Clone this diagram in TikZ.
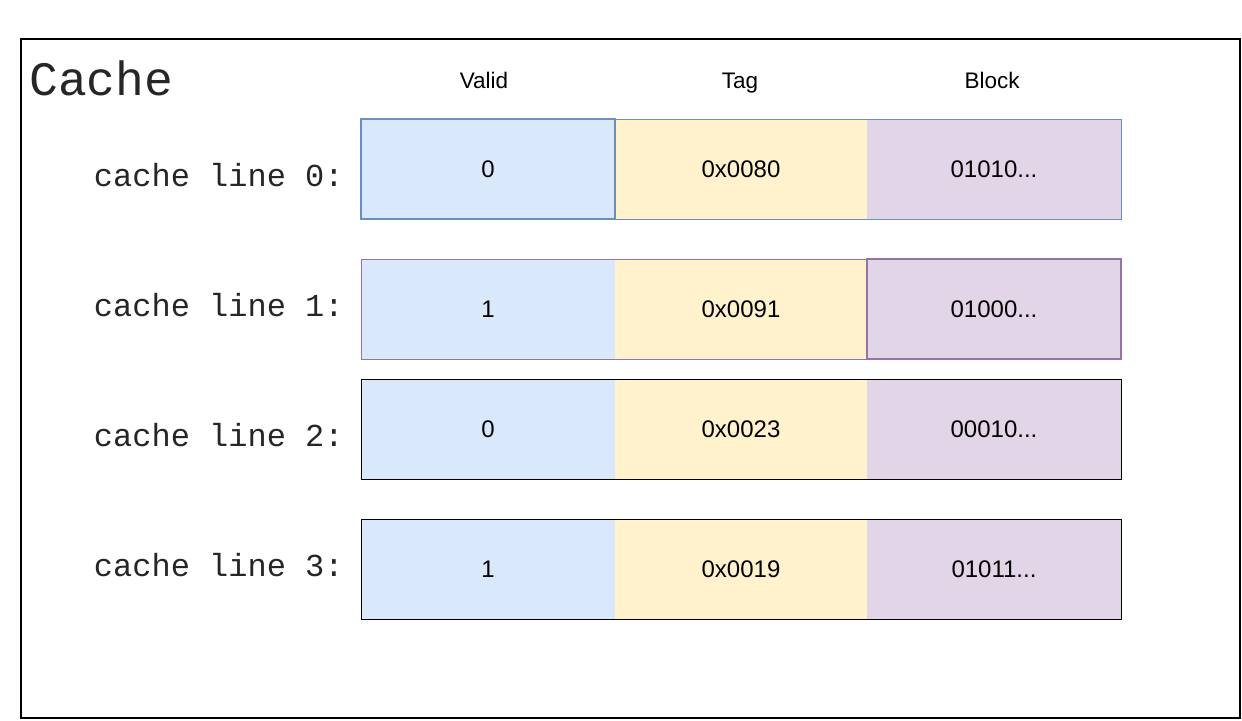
\documentclass[tikz,border=0pt]{standalone}
\usepackage{fontspec}
\setmainfont{Liberation Sans}
\setmonofont{Liberation Mono}
\usetikzlibrary{positioning}
\definecolor{vfill}{HTML}{DAE8FC}
\definecolor{vline}{HTML}{6C8EBF}
\definecolor{tfill}{HTML}{FFF2CC}
\definecolor{bfill}{HTML}{E1D5E7}
\definecolor{bline}{HTML}{9673A6}

\begin{document}
\begin{tikzpicture}[x=0.5pt,y=-0.5pt,node distance=0pt,
  cell/.style={rectangle,minimum width=127pt,minimum height=50pt,inner sep=0pt,outer sep=0pt,
    font=\fontsize{12}{14}\selectfont},
  valid/.style={cell,fill=vfill},
  tag/.style={cell,fill=tfill,minimum width=126pt},
  block/.style={cell,fill=bfill},
  lbl/.style={anchor=base east,inner sep=0pt,text=black!85,font=\ttfamily\fontsize{16}{18}\selectfont},
  head/.style={anchor=base,inner sep=0pt,font=\fontsize{11.25}{13}\selectfont}]
\useasboundingbox (0,0) rectangle (1242,720);
\draw[line width=1pt] (21,39) rectangle (1240,718);

\node[anchor=base west,inner sep=0pt,text=black!85,font=\ttfamily\fontsize{24}{28}\selectfont] (title) at (29,95) {Cache};
\node[head] (hvalid) at (484,88) {Valid};
\node[head] (htag) at (740,88) {Tag};
\node[head] (hblock) at (992,88) {Block};

% line 0
\node[lbl] (l0) at (344,186) {cache line 0:};
\node[valid] (v0) at (488,169) {0};
\node[tag] (t0) [right=of v0] {0x0080};
\node[block] (b0) [right=of t0] {01010...};
\draw[vline,line width=0.5pt] (v0.north west) rectangle (b0.south east);
\draw[vline,line width=0.8pt] (v0.north west) rectangle (v0.south east);

% line 1
\node[lbl] (l1) at (344,316) {cache line 1:};
\node[valid] (v1) at (488,309) {1};
\node[tag] (t1) [right=of v1] {0x0091};
\node[block] (b1) [right=of t1] {01000...};
\draw[bline,line width=0.5pt] (v1.north west) rectangle (b1.south east);
\draw[bline,line width=0.8pt] (b1.north west) rectangle (b1.south east);

% line 2
\node[lbl] (l2) at (344,446) {cache line 2:};
\node[valid] (v2) at (488,429) {0};
\node[tag] (t2) [right=of v2] {0x0023};
\node[block] (b2) [right=of t2] {00010...};
\draw[line width=0.5pt] (v2.north west) rectangle (b2.south east);

% line 3
\node[lbl] (l3) at (344,576) {cache line 3:};
\node[valid] (v3) at (488,569) {1};
\node[tag] (t3) [right=of v3] {0x0019};
\node[block] (b3) [right=of t3] {01011...};
\draw[line width=0.5pt] (v3.north west) rectangle (b3.south east);
\end{tikzpicture}
\end{document}
